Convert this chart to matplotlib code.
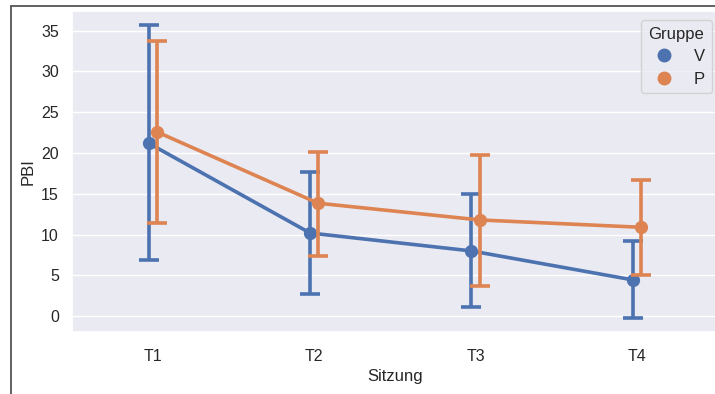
import matplotlib
matplotlib.use('Agg')
import matplotlib.pyplot as plt
import seaborn as sns
import numpy as np
from matplotlib.lines import Line2D

sns.set_theme(style='darkgrid', palette='deep')
plt.rcParams['font.family'] = ['Liberation Sans', 'DejaVu Sans']

# summary values (mean and CI limits)
sessions = ['T1', 'T2', 'T3', 'T4']
groups = ['V', 'P']
mean_v = [21.2, 10.2, 8.0, 4.45]
low_v = [6.95, 2.75, 1.1, -0.2]
high_v = [35.7, 17.7, 14.95, 9.25]
mean_p = [22.6, 13.85, 11.8, 10.9]
low_p = [11.4, 7.4, 3.75, 5.05]
high_p = [33.7, 20.1, 19.8, 16.7]

colors = sns.color_palette('deep')[:2]

fig = plt.figure(figsize=(7.15, 3.94), dpi=100)
ax = fig.add_axes([0.1007, 0.157, 0.903, 0.816])

x = np.arange(len(sessions))
dodge = [-0.025, 0.025]
series = [(mean_v, low_v, high_v), (mean_p, low_p, high_p)]
for i, (m, lo, hi) in enumerate(series):
    m = np.array(m)
    err = np.array([m - np.array(lo), np.array(hi) - m])
    ax.errorbar(x + dodge[i], m, yerr=err, color=colors[i], lw=2.6,
                elinewidth=2.6, capsize=7.5, capthick=2.6, marker='o',
                markersize=8.5, label=groups[i], zorder=3 + i)

ax.xaxis.grid(False)
ax.set_xticks(x)
ax.set_xticklabels(sessions)
ax.set_xlim(-0.5, 3.5)
ax.set_ylim(-1.95, 37.45)
ax.set_yticks([0, 5, 10, 15, 20, 25, 30, 35])
ax.tick_params(labelsize=11.5)
ax.tick_params(axis='x', pad=6)
ax.set_xlabel('Sitzung', fontsize=12, labelpad=4)
ax.set_ylabel('PBI', fontsize=12)

handles = [Line2D([], [], color=c, marker='o', linestyle='', markersize=9)
           for c in colors]
ax.legend(handles, groups, title='Gruppe', loc='upper right',
          fontsize=12, title_fontsize=12, labelspacing=0.45,
          bbox_to_anchor=(1.004, 0.997))

# screenshot frame at left and top
fig.add_artist(Line2D([0.015, 0.015], [0, 0.986], color='#555555', lw=1.3))
fig.add_artist(Line2D([0.015, 1.0], [0.986, 0.986], color='#555555', lw=1.3))

fig.savefig('out.png', dpi=100)
